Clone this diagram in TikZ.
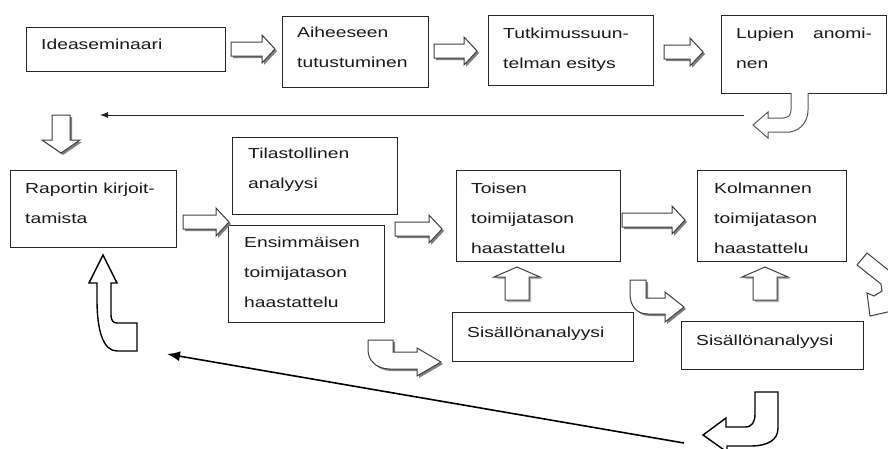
\documentclass[tikz,border=0pt]{standalone}
\usepackage{fontspec}
\setmainfont{Liberation Sans}[FakeStretch=1.33]
\usetikzlibrary{arrows.meta,calc}
\newcommand{\fl}{\rule{0pt}{12pt}}
\newcommand{\ensArrowPath}{(368,340) -- (393,340) -- (393,352) -- (417,352) -- (417,348) -- (441,362) -- (417,376) -- (417,369) -- (390,369) .. controls (376,369) and (368,360) .. (368,350) -- cycle}
\newcommand{\toiArrowPath}{(630,280) -- (646,280) -- (646,298) -- (665,298) -- (665,292) -- (684,307) -- (665,322) -- (665,314) -- (648,314) .. controls (636,314) and (630,305) .. (630,294) -- cycle}
\begin{document}
\begin{tikzpicture}[x=1pt,y=-1pt,
  box/.style={draw=black!85, line width=0.8pt, rectangle, inner sep=0pt, outer sep=0pt, anchor=north west},
  txt/.style={font=\fontsize{14.5}{30}\selectfont, align=left, inner sep=0pt, anchor=north west, text=black!90},
  blk/.style={fill=white, draw=black!75, line width=1pt},
  blkb/.style={fill=white, draw=black, line width=1.4pt},
  pics/rarr/.style={code={
     \fill[black!50] (2,-5) -- (#1-11,-5) -- (#1-11,-12) -- (#1+2,2) -- (#1-11,16) -- (#1-11,9) -- (2,9) -- cycle;
     \draw[blk] (0,-7) -- (#1-13,-7) -- (#1-13,-14) -- (#1,0) -- (#1-13,14) -- (#1-13,7) -- (0,7) -- cycle;
  }},
  pics/uarr/.style={code={
     \fill[black!30] (2,2) -- (25,12) -- (14,12) -- (14,35) -- (-10,35) -- (-10,12) -- (-21,12) -- cycle;
     \draw[blk] (0,0) -- (23,10) -- (12,10) -- (12,33) -- (-12,33) -- (-12,10) -- (-23,10) -- cycle;
  }},
  pics/darr/.style={code={
     \fill[black!50] (2,2) -- (21,-11) -- (11,-11) -- (11,-36) -- (-7,-36) -- (-7,-11) -- (-17,-11) -- cycle;
     \draw[blk] (0,0) -- (19,-13) -- (9,-13) -- (9,-38) -- (-9,-38) -- (-9,-13) -- (-19,-13) -- cycle;
  }}
]
\useasboundingbox (0,0) rectangle (888,448);
\clip (0,0) rectangle (888,448);
\fill[white] (0,0) rectangle (888,448);

% boxes
\node[box, minimum width=199pt, minimum height=44pt] (idea) at (26,27) {};
\node[box, minimum width=146pt, minimum height=71pt] (aih) at (282,16) {};
\node[box, minimum width=165pt, minimum height=70pt] (tutk) at (488,15) {};
\node[box, minimum width=165pt, minimum height=78pt] (lup) at (721,15) {};
\node[box, minimum width=166pt, minimum height=77pt] (rap) at (10,170) {};
\node[box, minimum width=165pt, minimum height=77pt] (tila) at (232,137) {};
\node[box, minimum width=156pt, minimum height=97pt] (ens) at (228,225) {};
\node[box, minimum width=164pt, minimum height=91pt] (toi) at (456,170) {};
\node[box, minimum width=149pt, minimum height=91pt] (kol) at (697,170) {};
\node[box, minimum width=181pt, minimum height=49pt] (sis1) at (452,312) {};
\node[box, minimum width=182pt, minimum height=48pt] (sis2) at (681,321) {};

% texts
\node[txt] (ideaT) at (41,37) {\fl Ideaseminaari};
\node[txt] (aihT) at (297,25) {\fl Aiheeseen\\tutustuminen};
\node[txt] (tutkT) at (503,26) {\fl Tutkimussuun-\\telman esitys};
\node[txt] (lupT) at (736,26) {\fl Lupien\hspace{19pt}anomi-\\nen};
\node[txt] (rapT) at (25,181) {\fl Raportin kirjoit-\\tamista};
\node[txt] (tilaT) at (248,146) {\fl Tilastollinen\\analyysi};
\node[txt] (ensT) at (244,235) {\fl Ensimmäisen\\toimijatason\\haastattelu};
\node[txt] (toiT) at (471,181) {\fl Toisen\\toimijatason\\haastattelu};
\node[txt] (kolT) at (714,181) {\fl Kolmannen\\toimijatason\\haastattelu};
\node[txt] (sis1T) at (467,325) {\fl Sisällönanalyysi};
\node[txt] (sis2T) at (696,333) {\fl Sisällönanalyysi};

% straight block arrows
\pic at (231,49) {rarr=44};
\pic at (434,51) {rarr=43};
\pic at (664,52) {rarr=39};
\pic at (183,222) {rarr=46};
\pic at (395,229) {rarr=47};
\pic at (622,220) {rarr=63};
\pic at (61,153) {darr};
\pic at (517,267) {uarr};
\pic at (765,267) {uarr};

% curved block arrows
\fill[black!50, shift={(2,2)}] \ensArrowPath;
\draw[blk] \ensArrowPath;
\fill[black!50, shift={(2,2)}] \toiArrowPath;
\draw[blk] \toiArrowPath;
\draw[blk, draw=black!65] (791,93) -- (791,110) .. controls (791,115) and (788,118) .. (783,118) -- (768,118) -- (768,112) -- (753,125) -- (768,138) -- (768,132) -- (790,132) .. controls (802,130) and (808,120) .. (808,110) -- (808,93);
\draw[blk, draw=black!75] (892,273) -- (867,253) -- (857,265) -- (881,284) -- (882,291) -- (874,296) -- (867,293) -- (870,316) -- (892,311);
\draw[blkb] (755,392) -- (778,392) -- (778,428) .. controls (778,440) and (768,446) .. (750,446) -- (727,446) -- (727,452) -- (703,435) -- (726,418) -- (726,427) -- (745,427) .. controls (752,427) and (755,422) .. (755,414) -- cycle;
\draw[blkb] (103,255) -- (117,283) -- (111,283) -- (111,315) .. controls (111,320) and (113,323) .. (117,323) -- (137,323) -- (137,351) -- (117,351) .. controls (103,351) and (97,330) .. (97,300) -- (97,283) -- (89,283) -- cycle;

% line connectors
\coordinate (thinS) at (744,115);
\coordinate (thinE) at (100,115);
\coordinate (longS) at (684,443);
\coordinate (longE) at (167,354);
\draw[black!85, line width=0.8pt, -{Latex[length=8pt,width=6pt]}] (thinS) -- (thinE);
\draw[black, line width=1.6pt, -{Latex[length=13pt,width=10pt]}] (longS) -- (longE);
\end{tikzpicture}
\end{document}
